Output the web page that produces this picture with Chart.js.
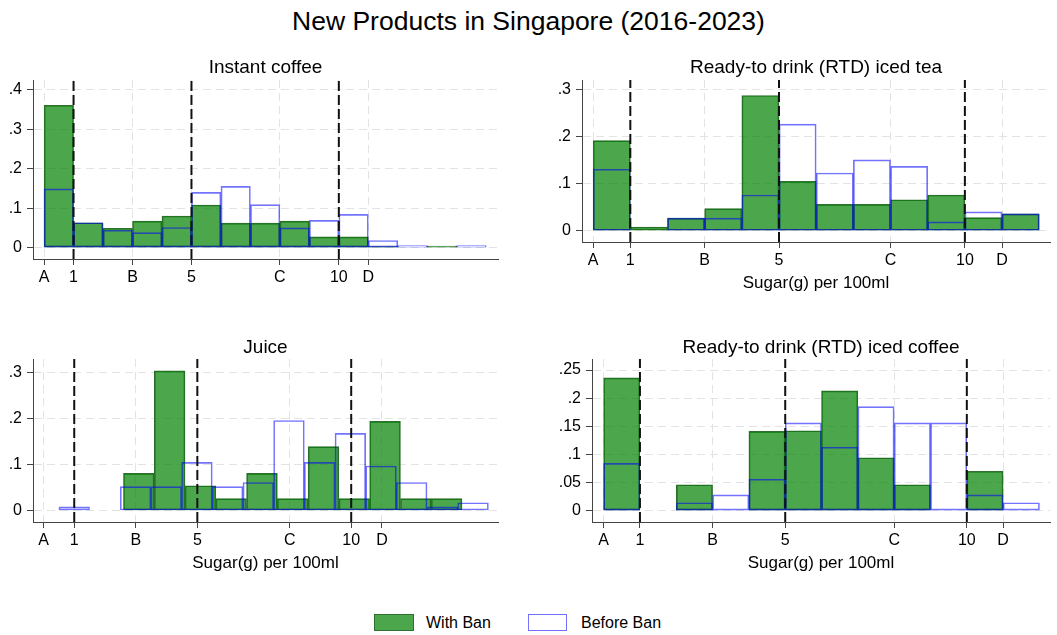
<!DOCTYPE html>
<html lang="en">
<head>
    <meta charset="UTF-8">
    <title>New Products in Singapore (2016-2023)</title>
    <style>
        body { margin: 0; background: #fff; font-family: "Liberation Sans", Arial, sans-serif; color: #000; }
        #figura { position: relative; width: 1057px; height: 635px; overflow: hidden; }
        #figura canvas { position: absolute; }
        .titulo { position: absolute; left: 0; top: 6px; width: 1057px; text-align: center; font-size: 26.5px; line-height: 30px; }
        .caixa { position: absolute; top: 614px; height: 15px; box-sizing: content-box; }
        .caixa.verde { left: 374px; width: 38px; background: rgba(0,128,0,0.7); border: 1px solid #2f6f2f; }
        .caixa.azul { left: 528px; width: 37px; background: #fff; border: 1px solid rgba(0,0,255,0.55); }
        .rotulo { position: absolute; top: 613px; font-size: 16px; line-height: 19px; }
    </style>
</head>
<body>
<div id="figura">
    <div class="titulo">New Products in Singapore (2016-2023)</div>

    <canvas id="instantCoffee" width="510" height="250" style="left:0px; top:50px;"></canvas>
    <canvas id="icedTea" width="508" height="250" style="left:549px; top:50px;"></canvas>
    <canvas id="juice" width="510" height="250" style="left:0px; top:330px;"></canvas>
    <canvas id="icedCoffee" width="508" height="250" style="left:549px; top:330px;"></canvas>

    <!-- legenda -->
    <span class="caixa verde"></span><span class="rotulo" style="left:426px;">With Ban</span>
    <span class="caixa azul"></span><span class="rotulo" style="left:581px;">Before Ban</span>
</div>

<script src="https://cdn.jsdelivr.net/npm/chart.js"></script>
<script>
    // eixo x comum: marcas de açúcar (g por 100ml)
    const xTickValues = [0, 1, 3, 5, 8, 10, 11];
    const xTickLabels = ['A', '1', 'B', '5', 'C', '10', 'D'];
    const cutoffs = [1, 5, 10];

    // Instant coffee (bins de largura 1 a partir de 0)
    const coffeeBins = { start: 0, width: 1 };
    const coffeeWithBan   = [0.361, 0.063, 0.049, 0.067, 0.080, 0.108, 0.062, 0.062, 0.067, 0.027, 0.027, 0.004, 0, 0.004, 0];
    const coffeeBeforeBan = [0.149, 0.063, 0.044, 0.038, 0.051, 0.140, 0.155, 0.109, 0.050, 0.069, 0.084, 0.018, 0.005, 0, 0.005];
    const coffeeYTicks = [0, 0.1, 0.2, 0.3, 0.4];

    // RTD iced tea
    const teaBins = { start: 0, width: 1 };
    const teaWithBan   = [0.192, 0.008, 0.027, 0.047, 0.288, 0.105, 0.056, 0.056, 0.066, 0.076, 0.028, 0.036];
    const teaBeforeBan = [0.131, 0, 0.027, 0.027, 0.076, 0.227, 0.123, 0.151, 0.137, 0.019, 0.040, 0.036];
    const teaYTicks = [0, 0.1, 0.2, 0.3];

    // Juice (os dois grupos têm bins diferentes)
    const juiceWithBins = { start: 2.6, width: 1 };
    const juiceBeforeBins = { start: 0.5, width: 0.997 };
    const juiceWithBan   = [0.081, 0.304, 0.054, 0.026, 0.081, 0.026, 0.139, 0.026, 0.194, 0.026, 0.026];
    const juiceBeforeBan = [0.008, 0, 0.052, 0.052, 0.105, 0.052, 0.061, 0.196, 0.105, 0.168, 0.097, 0.061, 0.008, 0.017];
    const juiceYTicks = [0, 0.1, 0.2, 0.3];

    // RTD iced coffee
    const icedBins = { start: 0, width: 1 };
    const icedWithBan   = [0.236, 0, 0.046, 0, 0.141, 0.142, 0.213, 0.094, 0.046, 0, 0.070, 0];
    const icedBeforeBan = [0.084, 0, 0.014, 0.028, 0.056, 0.156, 0.113, 0.185, 0.156, 0.156, 0.028, 0.014];
    const icedYTicks = [0, 0.05, 0.1, 0.15, 0.2, 0.25];

    Chart.defaults.font.family = '"Liberation Sans", Arial, sans-serif';
    Chart.defaults.color = '#000';

    const GREEN = 'rgba(0,128,0,0.7)';
    const GREEN_EDGE = '#2f6f2f';
    const BLUE_EDGE = 'rgba(0,0,255,0.55)';
    const GRID = '#e3e3e3';
    const AXIS = '#444';

    // centros dos bins -> pontos {x, y}
    function binPoints(values, bins) {
        return values.map((v, i) => ({ x: bins.start + (i + 0.5) * bins.width, y: v }));
    }

    function yLabel(v) {
        return v === 0 ? '0' : String(v).replace(/^0/, '');
    }

    function histograma(id, cfg) {
        const ctx = document.getElementById(id).getContext('2d');

        const linhas = cutoffs.flatMap(v => [
            { x: v, y: cfg.yMin }, { x: v, y: cfg.yMax }, { x: v, y: null }
        ]);

        const xBase = {
            type: 'linear',
            min: cfg.xMin,
            max: cfg.xMax,
            offset: false,
            afterBuildTicks: scale => { scale.ticks = xTickValues.map(v => ({ value: v })); }
        };

        return new Chart(ctx, {
            type: 'bar',
            data: {
                datasets: [
                    {
                        type: 'line',
                        data: linhas,
                        xAxisID: 'x',
                        borderColor: '#111',
                        borderWidth: 2,
                        borderDash: [10, 4],
                        pointRadius: 0,
                        spanGaps: false,
                        order: 0
                    },
                    {
                        label: 'Before Ban',
                        data: binPoints(cfg.before, cfg.beforeBins),
                        xAxisID: 'xAntes',
                        grouped: false,
                        backgroundColor: 'rgba(0,0,0,0)',
                        borderColor: BLUE_EDGE,
                        borderWidth: 1,
                        borderSkipped: false,
                        barPercentage: 1,
                        categoryPercentage: 1,
                        order: 1
                    },
                    {
                        label: 'With Ban',
                        data: binPoints(cfg.withBan, cfg.withBins),
                        xAxisID: 'x',
                        grouped: false,
                        backgroundColor: GREEN,
                        borderColor: GREEN_EDGE,
                        borderWidth: 1,
                        borderSkipped: false,
                        barPercentage: 1,
                        categoryPercentage: 1,
                        order: 2
                    }
                ]
            },
            options: {
                responsive: false,
                animation: false,
                events: [],
                layout: { padding: { left: 0, right: cfg.padRight, top: 0, bottom: 0 } },
                plugins: {
                    legend: { display: false },
                    tooltip: { enabled: false },
                    title: {
                        display: true,
                        fullSize: false,
                        text: cfg.title,
                        font: { size: 19, weight: 'normal' },
                        color: '#000',
                        padding: { top: cfg.titleTop, bottom: cfg.titleBottom }
                    }
                },
                scales: {
                    x: Object.assign({}, xBase, {
                        position: 'bottom',
                        grid: { offset: false, color: GRID, tickColor: AXIS, tickLength: 6, lineWidth: 1 },
                        border: { color: AXIS, width: 1, dash: [8, 5] },
                        ticks: {
                            padding: 3,
                            font: { size: 16 },
                            color: '#000',
                            maxRotation: 0,
                            autoSkip: false,
                            callback: (v, i) => xTickLabels[i]
                        },
                        title: {
                            display: cfg.xTitle,
                            text: 'Sugar(g) per 100ml',
                            font: { size: 17 },
                            color: '#000',
                            padding: { top: 0, bottom: 6.8 }
                        },
                        afterFit: scale => { scale.height = cfg.xHeight; }
                    }),
                    xAntes: Object.assign({}, xBase, {
                        display: false,
                        grid: { offset: false }
                    }),
                    y: {
                        type: 'linear',
                        min: cfg.yMin,
                        max: cfg.yMax,
                        grid: { color: GRID, tickColor: AXIS, tickLength: 6, lineWidth: 1 },
                        border: { color: AXIS, width: 1, dash: [8, 5] },
                        ticks: { padding: 5, font: { size: 16 }, color: '#000', callback: v => yLabel(v) },
                        afterBuildTicks: scale => { scale.ticks = cfg.yTicks.map(v => ({ value: v })); },
                        afterFit: scale => { scale.width = cfg.yWidth; }
                    }
                }
            }
        });
    }

    histograma('instantCoffee', {
        title: 'Instant coffee',
        withBan: coffeeWithBan, withBins: coffeeBins,
        before: coffeeBeforeBan, beforeBins: coffeeBins,
        yTicks: coffeeYTicks, yMin: -0.029, yMax: 0.425,
        xMin: -0.376, xMax: 15.4,
        xTitle: false, xHeight: 41, yWidth: 33, padRight: 12,
        titleTop: 6.6, titleBottom: 0.6
    });

    histograma('icedTea', {
        title: 'Ready-to drink (RTD) iced tea',
        withBan: teaWithBan, withBins: teaBins,
        before: teaBeforeBan, beforeBins: teaBins,
        yTicks: teaYTicks, yMin: -0.024, yMax: 0.321,
        xMin: -0.30, xMax: 12.29,
        xTitle: true, xHeight: 58, yWidth: 33, padRight: 7,
        titleTop: 6.6, titleBottom: 0.6
    });

    histograma('juice', {
        title: 'Juice',
        withBan: juiceWithBan, withBins: juiceWithBins,
        before: juiceBeforeBan, beforeBins: juiceBeforeBins,
        yTicks: juiceYTicks, yMin: -0.025, yMax: 0.330,
        xMin: -0.34, xMax: 14.77,
        xTitle: true, xHeight: 58, yWidth: 33, padRight: 12,
        titleTop: 6.2, titleBottom: 0
    });

    histograma('icedCoffee', {
        title: 'Ready-to drink (RTD) iced coffee',
        withBan: icedWithBan, withBins: icedBins,
        before: icedBeforeBan, beforeBins: icedBins,
        yTicks: icedYTicks, yMin: -0.0203, yMax: 0.2696,
        xMin: -0.32, xMax: 12.29,
        xTitle: true, xHeight: 58, yWidth: 43, padRight: 7,
        titleTop: 6.2, titleBottom: 0
    });
</script>
</body>
</html>
